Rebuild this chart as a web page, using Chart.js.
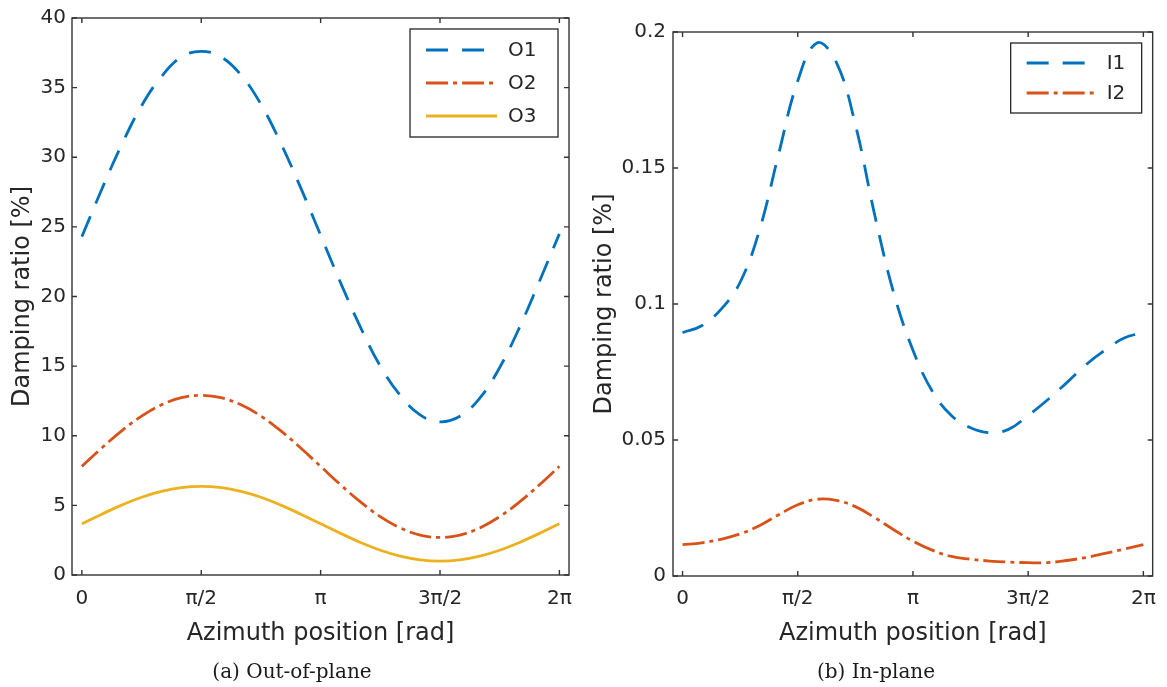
<!DOCTYPE html>
<html>
<head>
<meta charset="utf-8">
<script src="https://cdn.jsdelivr.net/npm/chart.js@4/dist/chart.umd.min.js"></script>
<style>
  html, body { margin: 0; padding: 0; background: #ffffff; }
  #wrap { position: relative; width: 1167px; height: 687px; overflow: hidden; background: #fff; }
  canvas { position: absolute; top: 0; }
  .cap { position: absolute; font-family: "DejaVu Serif", "Liberation Serif", serif; font-size: 20px; color: #1a1a1a; white-space: nowrap; transform: translate(-50%, -50%); }
</style>
</head>
<body>
<div id="wrap">
  <canvas id="left" width="584" height="687" style="left:0px;width:584px;height:687px"></canvas>
  <canvas id="right" width="583" height="687" style="left:584px;width:583px;height:687px"></canvas>
  <div class="cap" style="left:292px;top:671px">(a) Out-of-plane</div>
  <div class="cap" style="left:876px;top:671px">(b) In-plane</div>
</div>
<script>
// ---------------- data ----------------
const azimuth = [0, 0.2618, 0.5236, 0.7854, 1.0472, 1.3090, 1.5708, 1.8326, 2.0944, 2.3562, 2.6180, 2.8798,
                 3.1416, 3.4034, 3.6652, 3.9270, 4.1888, 4.4506, 4.7124, 4.9742, 5.2360, 5.4978, 5.7596, 6.0214, 6.2832];

const o1 = [24.3, 27.7, 30.9, 33.7, 35.8, 37.2, 37.6, 37.2, 35.9, 33.8, 31.0, 27.8,
            24.4, 21.0, 17.8, 15.0, 12.9, 11.5, 11.0, 11.4, 12.7, 14.9, 17.8, 21.1, 24.5];
const o2 = [7.8, 9.12, 10.35, 11.41, 12.22, 12.73, 12.9, 12.73, 12.22, 11.41, 10.35, 9.12,
            7.8, 6.48, 5.25, 4.19, 3.38, 2.87, 2.7, 2.87, 3.38, 4.19, 5.25, 6.48, 7.8];
const o3 = [3.68, 4.37, 5.02, 5.58, 6.0, 6.27, 6.36, 6.27, 6.0, 5.58, 5.02, 4.37,
            3.68, 2.99, 2.34, 1.78, 1.36, 1.09, 1.0, 1.09, 1.36, 1.78, 2.34, 2.99, 3.68];

const i1 = [0.0895, 0.092, 0.098, 0.108, 0.127, 0.155, 0.182, 0.196, 0.189, 0.166, 0.133, 0.104,
            0.083, 0.068, 0.059, 0.0545, 0.0527, 0.054, 0.059, 0.0647, 0.071, 0.0776, 0.083, 0.0875, 0.0895];
const i2 = [0.0115, 0.0122, 0.0135, 0.0155, 0.0185, 0.0225, 0.0262, 0.0282, 0.0278, 0.0255, 0.0215, 0.017,
            0.0128, 0.0095, 0.0072, 0.0062, 0.0055, 0.0051, 0.0049, 0.0049, 0.0057, 0.0068, 0.0083, 0.0099, 0.0115];

const xTickValues = [0, 1.5708, 3.1416, 4.7124, 6.2832];
const xTickLabels = ['0', 'π/2', 'π', '3π/2', '2π'];
const leftYTicks = [0, 5, 10, 15, 20, 25, 30, 35, 40];
const leftYLabels = ['0', '5', '10', '15', '20', '25', '30', '35', '40'];
const rightYTicks = [0, 0.05, 0.1, 0.15, 0.2];
const rightYLabels = ['0', '0.05', '0.1', '0.15', '0.2'];

const leftNames = ['O1', 'O2', 'O3'];
const rightNames = ['I1', 'I2'];
const xTitle = 'Azimuth position [rad]';
const yTitle = 'Damping ratio [%]';

// ---------------- styling ----------------
const BLUE = '#0072BD', ORANGE = '#D95319', YELLOW = '#EDB120';
const TXT = '#262626';
const FONT = '"DejaVu Sans", "Liberation Sans", sans-serif';
const DASH = [22, 14];
const DASHDOT = [22, 5, 4, 5];
const LW = 2.8;

function pts(ys) { return azimuth.map((x, i) => ({ x: x, y: ys[i] })); }

const matlabFrame = {
  id: 'matlabFrame',
  afterDatasetsDraw(chart, args, o) {
    const { ctx, chartArea: a, scales } = chart;
    ctx.save();
    ctx.strokeStyle = o.color;
    ctx.lineWidth = o.width;
    ctx.setLineDash([]);
    ctx.beginPath();
    const tl = o.tickLen;
    scales.x.ticks.forEach(t => {
      const px = scales.x.getPixelForValue(t.value);
      ctx.moveTo(px, a.bottom); ctx.lineTo(px, a.bottom - tl);
      ctx.moveTo(px, a.top); ctx.lineTo(px, a.top + tl);
    });
    scales.y.ticks.forEach(t => {
      const py = scales.y.getPixelForValue(t.value);
      ctx.moveTo(a.left, py); ctx.lineTo(a.left + tl, py);
      ctx.moveTo(a.right, py); ctx.lineTo(a.right - tl, py);
    });
    ctx.stroke();
    ctx.strokeRect(a.left, a.top, a.right - a.left, a.bottom - a.top);
    ctx.restore();
  }
};

const boxLegend = {
  id: 'boxLegend',
  afterDraw(chart, args, o) {
    const { ctx, chartArea: a } = chart;
    const x0 = a.right - o.inset - o.width, y0 = a.top + o.inset;
    ctx.save();
    ctx.fillStyle = '#ffffff';
    ctx.fillRect(x0, y0, o.width, o.height);
    ctx.strokeStyle = TXT;
    ctx.lineWidth = 1.3;
    ctx.setLineDash([]);
    ctx.strokeRect(x0, y0, o.width, o.height);
    chart.data.datasets.forEach((ds, i) => {
      const y = y0 + o.firstRow + i * o.rowGap;
      ctx.strokeStyle = ds.borderColor;
      ctx.lineWidth = ds.borderWidth;
      ctx.setLineDash(ds.borderDash || []);
      ctx.beginPath();
      ctx.moveTo(x0 + o.lineStart, y);
      ctx.lineTo(x0 + o.lineStart + o.lineLen, y);
      ctx.stroke();
      ctx.setLineDash([]);
      ctx.fillStyle = TXT;
      ctx.font = '20px ' + FONT;
      ctx.textBaseline = 'middle';
      ctx.textAlign = 'left';
      ctx.fillText(ds.label, x0 + o.textX, y + 1);
    });
    ctx.restore();
  }
};

function makeChart(id, datasets, cfg) {
  return new Chart(document.getElementById(id), {
    type: 'line',
    data: { datasets: datasets },
    plugins: [matlabFrame, boxLegend],
    options: {
      responsive: false,
      animation: false,
      devicePixelRatio: 1,
      layout: { padding: { left: 0, top: cfg.padTop, right: cfg.padRight, bottom: 0 } },
      elements: { point: { radius: 0 }, line: { tension: 0.4 } },
      plugins: {
        legend: { display: false },
        tooltip: { enabled: false },
        matlabFrame: { color: '#333333', width: 1.4, tickLen: 5 },
        boxLegend: cfg.legend
      },
      scales: {
        x: {
          type: 'linear', min: -0.13, max: 6.41,
          grid: { display: false, drawTicks: false },
          border: { display: false },
          afterBuildTicks: s => { s.ticks = xTickValues.map(v => ({ value: v })); },
          afterFit: s => { s.height = cfg.xAxisH; },
          ticks: {
            autoSkip: false, maxRotation: 0, padding: cfg.xTickPad, color: TXT,
            font: { family: FONT, size: 20 },
            callback: (v, i) => xTickLabels[i]
          },
          title: { display: true, text: xTitle, color: TXT, font: { family: FONT, size: 24 }, padding: { top: 0, bottom: 38.6 } }
        },
        y: {
          type: 'linear', min: cfg.yMin, max: cfg.yMax,
          grid: { display: false, drawTicks: false },
          border: { display: false },
          afterBuildTicks: s => { s.ticks = cfg.yTicks.map(v => ({ value: v })); },
          afterFit: s => { s.width = cfg.yAxisW; },
          ticks: {
            padding: cfg.yTickPad, color: TXT,
            font: { family: FONT, size: 20 },
            callback: (v, i) => cfg.yLabels[i]
          },
          title: { display: true, text: yTitle, color: TXT, font: { family: FONT, size: 24 }, padding: { top: cfg.yTitlePad, bottom: 0 } }
        }
      }
    }
  });
}

makeChart('left', [
  { label: leftNames[0], data: pts(o1), borderColor: BLUE, borderWidth: LW, borderDash: DASH, fill: false },
  { label: leftNames[1], data: pts(o2), borderColor: ORANGE, borderWidth: LW, borderDash: DASHDOT, fill: false },
  { label: leftNames[2], data: pts(o3), borderColor: YELLOW, borderWidth: LW, fill: false }
], {
  padTop: 15, padRight: 12, xAxisH: 112, yAxisW: 72, xTickPad: 12, yTickPad: 6, yTitlePad: 8.6,
  yMin: 0, yMax: 40, yTicks: leftYTicks, yLabels: leftYLabels,
  legend: { inset: 11, width: 148, height: 108, firstRow: 21, rowGap: 33, lineStart: 16, lineLen: 71, textX: 98 }
});

makeChart('right', [
  { label: rightNames[0], data: pts(i1), borderColor: BLUE, borderWidth: LW, borderDash: DASH, fill: false },
  { label: rightNames[1], data: pts(i2), borderColor: ORANGE, borderWidth: LW, borderDash: DASHDOT, fill: false }
], {
  padTop: 32, padRight: 13, xAxisH: 111, yAxisW: 89, xTickPad: 11, yTickPad: 7, yTitlePad: 6.6,
  yMin: 0, yMax: 0.2, yTicks: rightYTicks, yLabels: rightYLabels,
  legend: { inset: 11, width: 131, height: 70, firstRow: 20, rowGap: 30, lineStart: 16, lineLen: 69, textX: 96 }
});
</script>
</body>
</html>
